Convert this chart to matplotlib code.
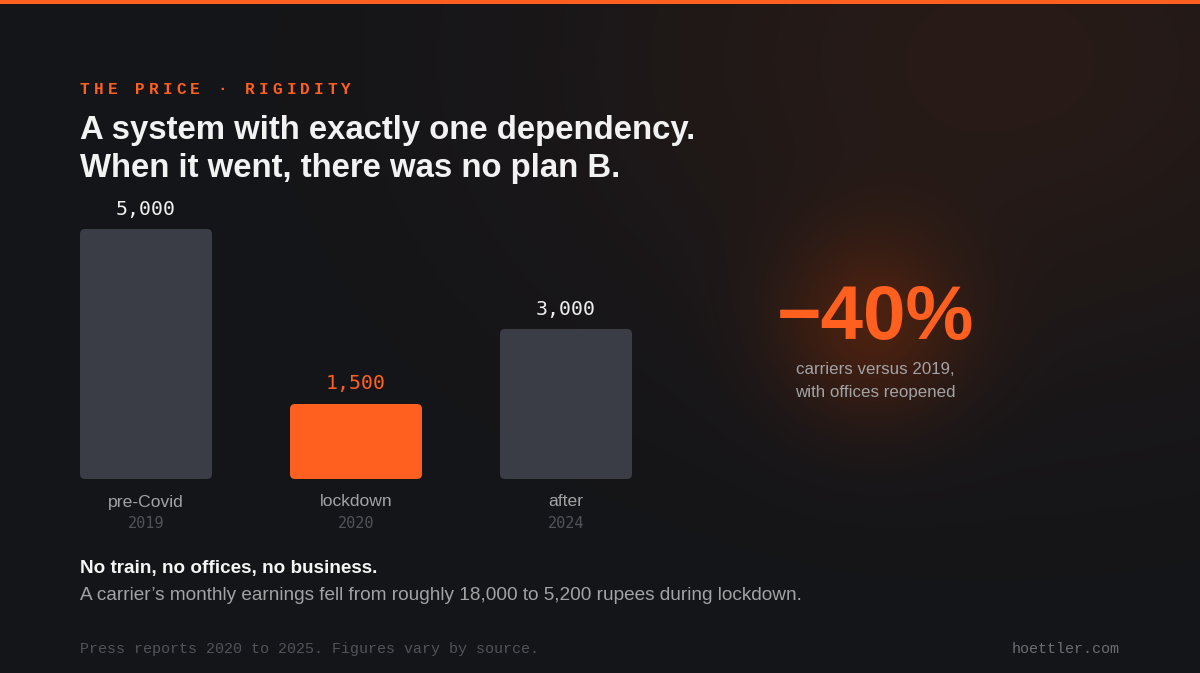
import numpy as np
import matplotlib.pyplot as plt
from matplotlib.patches import FancyBboxPatch, Rectangle

# data
categories = ["pre-Covid", "lockdown", "after"]
years = ["2019", "2020", "2024"]
carriers = [5000, 1500, 3000]
value_labels = ["5,000", "1,500", "3,000"]
highlight = [False, True, False]

ORANGE = "#ff5f1f"
BAR_GREY = "#3a3d45"
W, H = 1200, 673

fig = plt.figure(figsize=(W / 100, H / 100), dpi=100)

# background with soft glows
bg = fig.add_axes([0, 0, 1, 1])
bg.set_xlim(0, W)
bg.set_ylim(H, 0)
bg.axis("off")
yy, xx = np.mgrid[0:H, 0:W]
base = np.array([20, 21, 25], dtype=float) / 255
img = np.ones((H, W, 3)) * base
# brownish haze top right
d1 = np.exp(-(((xx - 1000) / 420) ** 2 + ((yy - 60) / 300) ** 2))
img += d1[..., None] * (np.array([40, 27, 23]) / 255 - base)
# orange glow behind the big number
d2 = np.exp(-(((xx - 872) ** 2 + (yy - 325) ** 2) / (2 * 65 ** 2)))
img += d2[..., None] * (np.array([72, 32, 16]) / 255 - base) * 0.9
img = np.clip(img, 0, 1)
bg.imshow(img, extent=(0, W, H, 0), aspect="auto", zorder=0)
bg.add_patch(Rectangle((0, 0), W, 4, color=ORANGE, lw=0, zorder=1))

# kicker with letter spacing
kicker = "THE PRICE · RIGIDITY"
x = 80
for ch in kicker:
    bg.text(x, 89, ch, color=ORANGE, fontsize=11.5, family="Liberation Mono",
            fontweight="bold", va="center", ha="left")
    x += 13.75

bg.text(80, 131, "A system with exactly one dependency.", color="#f2f2f2",
        fontsize=23.7, fontweight="bold", family="Liberation Sans", va="center")
bg.text(80, 168, "When it went, there was no plan B.", color="#f2f2f2",
        fontsize=23.7, fontweight="bold", family="Liberation Sans", va="center")

# bar chart axes: x 80..632 px, y 229..479 px
ax = fig.add_axes([80 / W, 1 - 479 / H, (632 - 80) / W, 250 / H])
ax.set_xlim(-0.3143, 2.3143)
ax.set_ylim(0, 5000)
ax.axis("off")
bw = 132 / 210
xpp = 1 / 210
ypp = 5000 / 250
for i, (v, lab, hl) in enumerate(zip(carriers, value_labels, highlight)):
    c = ORANGE if hl else BAR_GREY
    ax.add_patch(FancyBboxPatch((i - bw / 2, 0), bw, v,
                                boxstyle="round,pad=0,rounding_size=%f" % (5 * xpp),
                                mutation_aspect=ypp / xpp, fc=c, ec="none"))
    ax.text(i, v + 20 * ypp, lab, ha="center", va="center", fontsize=14.3,
            family="DejaVu Sans Mono", color=ORANGE if hl else "#eeeeee",
            clip_on=False)
    ax.text(i, -23 * ypp, categories[i], ha="center", va="center", fontsize=12.6,
            family="Liberation Sans", color="#a3a3a6", clip_on=False)
    ax.text(i, -45 * ypp, years[i], ha="center", va="center", fontsize=11,
            family="DejaVu Sans Mono", color="#505359", clip_on=False)

# callout
bg.text(875, 319, "\u221240%", color=ORANGE, fontsize=55, fontweight="bold",
        family="Liberation Sans", ha="center", va="center")
bg.text(875, 369, "carriers versus 2019,", color="#a3a3a6", fontsize=12.2,
        family="Liberation Sans", ha="center", va="center")
bg.text(875, 393, "with offices reopened", color="#a3a3a6", fontsize=12.2,
        family="Liberation Sans", ha="center", va="center")

# notes
bg.text(80, 569, "No train, no offices, no business.", color="#f5f5f5",
        fontsize=13.6, fontweight="bold", family="Liberation Sans", va="center")
bg.text(80, 596, "A carrier\u2019s monthly earnings fell from roughly 18,000 to 5,200 rupees during lockdown.",
        color="#a3a3a6", fontsize=13.7, family="Liberation Sans", va="center")
bg.text(80, 649, "Press reports 2020 to 2025. Figures vary by source.", color="#505359",
        fontsize=10.8, family="Liberation Mono", va="center")
bg.text(1120, 649, "hoettler.com", color="#6a6d72", fontsize=10.8,
        family="Liberation Mono", va="center", ha="right")

fig.savefig("out.png", dpi=100, facecolor="#141519")
